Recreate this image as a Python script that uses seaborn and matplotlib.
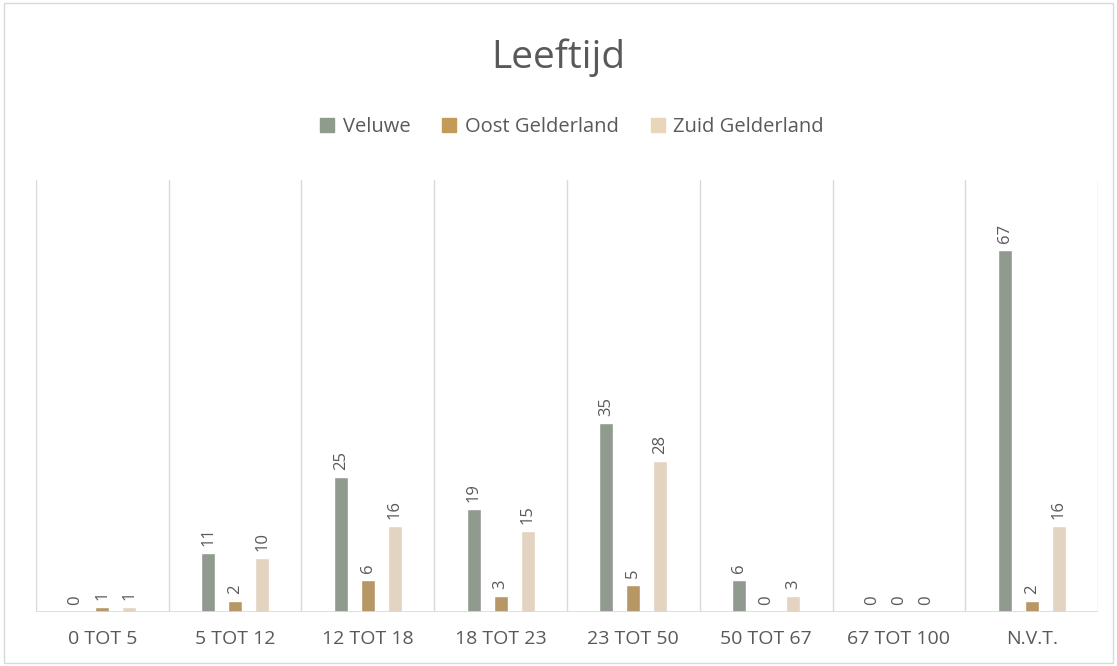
import pandas as pd
import matplotlib.pyplot as plt
import seaborn as sns

# Leeftijd per regio
categories = ["0 TOT 5", "5 TOT 12", "12 TOT 18", "18 TOT 23",
              "23 TOT 50", "50 TOT 67", "67 TOT 100", "N.V.T."]
veluwe = [0, 11, 25, 19, 35, 6, 0, 67]
oost_gelderland = [1, 2, 6, 3, 5, 0, 0, 2]
zuid_gelderland = [1, 10, 16, 15, 28, 3, 0, 16]
series_names = ["Veluwe", "Oost Gelderland", "Zuid Gelderland"]
colors = ["#8F9C8C", "#C49A58", "#E8D5BA"]

df = pd.DataFrame({"Leeftijd": categories,
                   "Veluwe": veluwe,
                   "Oost Gelderland": oost_gelderland,
                   "Zuid Gelderland": zuid_gelderland})
df = df.melt(id_vars="Leeftijd", var_name="Regio", value_name="Aantal")

sns.set_style("white")
plt.rcParams["font.family"] = ["Open Sans", "DejaVu Sans"]
text_color = "#595959"
grid_color = "#D9D9D9"

fig = plt.figure(figsize=(11.17, 6.66), dpi=100)
ax = fig.add_axes([0.0322, 0.0811, 0.9508, 0.6486])

sns.barplot(data=df, x="Leeftijd", y="Aantal", hue="Regio",
            order=categories, hue_order=series_names,
            palette=colors, width=0.61, gap=0.48, ax=ax, legend=False)

for cont in ax.containers:
    ax.bar_label(cont, fmt="%d", rotation=90, padding=5,
                 fontsize=12, color=text_color)

ax.set_xlim(-0.5, len(categories) - 0.5)
ax.set_ylim(0, 80)
ax.set_yticks([])
ax.set_xlabel("")
ax.set_ylabel("")
for b in range(len(categories) + 1):
    ax.axvline(b - 0.5, color=grid_color, lw=1, zorder=0)
for s in ax.spines.values():
    s.set_visible(False)
ax.axhline(0, color=grid_color, lw=1.2, zorder=3)
ax.tick_params(axis="x", length=0, pad=13, labelsize=14, labelcolor=text_color)

# title and legend
fig.text(0.5, 0.913, "Leeftijd", ha="center", va="center",
         fontsize=28, color=text_color)
handles = [plt.Rectangle((0, 0), 1, 1, color=c) for c in colors]
fig.legend(handles, series_names, loc="center", bbox_to_anchor=(0.512, 0.809),
           ncol=3, frameon=False, fontsize=14.5, labelcolor=text_color,
           handlelength=0.7, handleheight=0.7, handletextpad=0.4,
           columnspacing=1.6)

# chart border
fig.add_artist(plt.Rectangle((0.004, 0.004), 0.992, 0.992, transform=fig.transFigure,
                             fill=False, edgecolor=grid_color, lw=1))

fig.savefig("out.png", dpi=100)
